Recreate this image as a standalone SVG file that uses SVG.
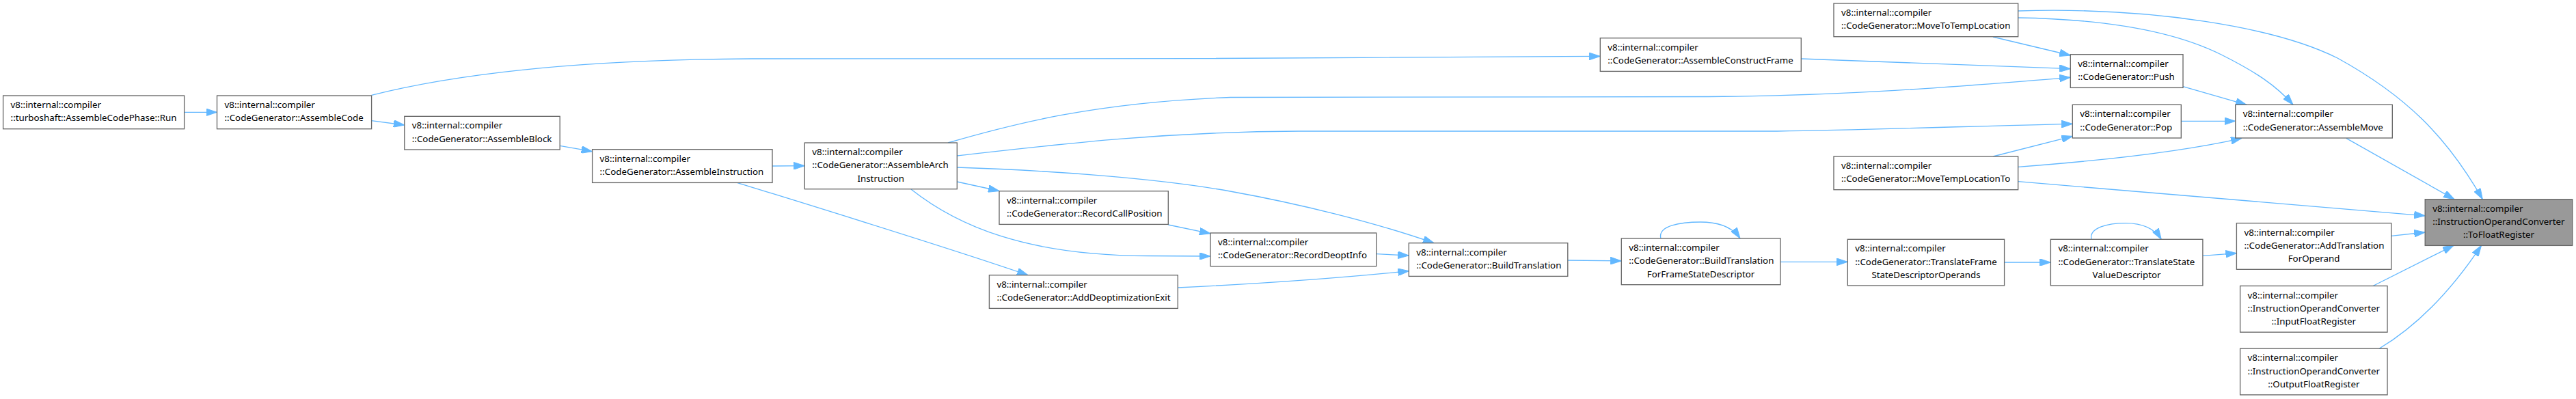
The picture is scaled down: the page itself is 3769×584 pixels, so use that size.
<svg xmlns="http://www.w3.org/2000/svg" width="3769" height="584" viewBox="0 0 3769 584">
<style>
.n rect{fill:#fff;stroke:#666;stroke-width:1.33}
.n.hl rect{fill:#999}
.n text{font-family:"Noto Sans","Open Sans",sans-serif;font-size:13.33px;fill:#000}
.n text.c{text-anchor:middle}
#edges path{fill:none;stroke:#63b8ff;stroke-width:1.33;marker-end:url(#arr)}
</style>
<defs>
<marker id="arr" viewBox="0 0 16 10.7" refX="16" refY="5.35" markerWidth="16" markerHeight="10.7" markerUnits="userSpaceOnUse" orient="auto">
<path d="M0,0 L16,5.35 L0,10.7 Z" fill="#63b8ff" stroke="#63b8ff" stroke-width="1"/>
</marker>
</defs>
<rect width="3769" height="584" fill="#fff"/>
<g id="edges">
<path d="M269.6,164.3 L317.5,164.3"/>
<path d="M543.6,176.7 L591.8,183"/>
<path d="M543.6,139.3 C700,100 900,87 1100,86 L1750,85.7 C2000,85 2200,83.5 2341.3,82.3"/>
<path d="M819.2,213.3 L866.6,221.7"/>
<path d="M1130,243 L1177.3,242.7"/>
<path d="M1078.5,267.3 C1200,305 1380,360 1504,402.7"/>
<path d="M1400.3,266 L1462,279.5"/>
<path d="M1333,277 C1400,330 1500,374 1680,374.5 L1771,375"/>
<path d="M1400.3,245 C1550,250 1700,262 1800,280 C1900,298 2010,325 2098,355.7"/>
<path d="M1387,209 C1480,182 1600,150 1800,142.5 L2500,141.5 C2700,140 2850,128 3029.3,113.3"/>
<path d="M1400.3,228 C1550,211 1700,193 1900,192 L2600,192 C2750,190 2900,184 3032.3,181.3"/>
<path d="M1709.3,329 L1771,341.8"/>
<path d="M2013.7,371.7 L2061.3,374"/>
<path d="M1723.3,421 C1850,415 1980,405 2061.3,396.7"/>
<path d="M2293.8,381 L2372.3,381.8"/>
<path d="M2430,349 C2425,330 2460,325 2488,325 C2515,325 2535,333 2546,349"/>
<path d="M2605,383.3 L2703.3,383.3"/>
<path d="M2932.6,384 L3000.4,384"/>
<path d="M3060,350.3 C3056,333 3085,326.6 3110,326.6 C3135,326.6 3152,334 3162.3,350.3"/>
<path d="M3222.9,374.3 L3272.4,370.6"/>
<path d="M3498.7,345.3 L3548.2,340"/>
<path d="M2635.3,86 L3029.3,100.7"/>
<path d="M2916,54 L3029.3,81"/>
<path d="M2916,229 L3032.3,199.4"/>
<path d="M3194,126.7 L3287,153.3"/>
<path d="M3191.3,177.3 L3270.7,177.3"/>
<path d="M2952.7,26 C3080,28 3180,45 3250,80 C3300,105 3330,125 3355,153.3"/>
<path d="M2952.7,16 C3150,10 3330,40 3420,85 C3520,140 3580,200 3632.3,291.7"/>
<path d="M2952.7,244.3 C3050,237 3180,225 3280,202.3"/>
<path d="M2952.7,265.7 L3548.2,315.8"/>
<path d="M3432.9,202.3 L3591,291.7"/>
<path d="M3472,418.5 L3590,359.3"/>
<path d="M3481,510.2 C3540,475 3590,420 3630.5,359.3"/>
</g>
<g id="n_run" class="n"><rect x="4.6" y="140" width="265" height="48.7"/><text x="15.6" y="158">v8::internal::compiler</text><text x="15.6" y="177.3">::turboshaft::AssembleCodePhase::Run</text></g>
<g id="n_assemblecode" class="n"><rect x="317.5" y="140" width="226.1" height="48.7"/><text x="328.5" y="158">v8::internal::compiler</text><text x="328.5" y="177.3">::CodeGenerator::AssembleCode</text></g>
<g id="n_assembleblock" class="n"><rect x="591.8" y="170.3" width="227.4" height="48.7"/><text x="602.8" y="188.3">v8::internal::compiler</text><text x="602.8" y="207.6">::CodeGenerator::AssembleBlock</text></g>
<g id="n_assembleinstruction" class="n"><rect x="866.6" y="218.7" width="263.4" height="48.7"/><text x="877.6" y="236.7">v8::internal::compiler</text><text x="877.6" y="256">::CodeGenerator::AssembleInstruction</text></g>
<g id="n_assemblearch" class="n"><rect x="1177.3" y="209" width="223" height="67.7"/><text x="1188.3" y="227">v8::internal::compiler</text><text x="1188.3" y="246.3">::CodeGenerator::AssembleArch</text><text class="c" x="1288.8" y="265.6">Instruction</text></g>
<g id="n_recordcallposition" class="n"><rect x="1462" y="279.7" width="247.3" height="48.7"/><text x="1473" y="297.7">v8::internal::compiler</text><text x="1473" y="317">::CodeGenerator::RecordCallPosition</text></g>
<g id="n_adddeoptexit" class="n"><rect x="1447.4" y="402.7" width="275.9" height="48.7"/><text x="1458.4" y="420.7">v8::internal::compiler</text><text x="1458.4" y="440">::CodeGenerator::AddDeoptimizationExit</text></g>
<g id="n_recorddeoptinfo" class="n"><rect x="1771" y="341" width="242.7" height="48.7"/><text x="1782" y="359">v8::internal::compiler</text><text x="1782" y="378.3">::CodeGenerator::RecordDeoptInfo</text></g>
<g id="n_buildtranslation" class="n"><rect x="2061.3" y="355.7" width="232.5" height="48.7"/><text x="2072.3" y="373.7">v8::internal::compiler</text><text x="2072.3" y="393">::CodeGenerator::BuildTranslation</text></g>
<g id="n_btff" class="n"><rect x="2372.3" y="349" width="232.7" height="67.7"/><text x="2383.3" y="367">v8::internal::compiler</text><text x="2383.3" y="386.3">::CodeGenerator::BuildTranslation</text><text class="c" x="2488.6" y="405.6">ForFrameStateDescriptor</text></g>
<g id="n_tfsdo" class="n"><rect x="2703.3" y="350.3" width="229.3" height="67.7"/><text x="2714.3" y="368.3">v8::internal::compiler</text><text x="2714.3" y="387.6">::CodeGenerator::TranslateFrame</text><text class="c" x="2818" y="406.9">StateDescriptorOperands</text></g>
<g id="n_tsvd" class="n"><rect x="3000.4" y="350.3" width="222.5" height="67.7"/><text x="3011.4" y="368.3">v8::internal::compiler</text><text x="3011.4" y="387.6">::CodeGenerator::TranslateState</text><text class="c" x="3111.6" y="406.9">ValueDescriptor</text></g>
<g id="n_assembleconstructframe" class="n"><rect x="2341.3" y="55.7" width="294" height="48.7"/><text x="2352.3" y="73.7">v8::internal::compiler</text><text x="2352.3" y="93">::CodeGenerator::AssembleConstructFrame</text></g>
<g id="n_movetotemplocation" class="n"><rect x="2683" y="5" width="269.7" height="48.7"/><text x="2694" y="23">v8::internal::compiler</text><text x="2694" y="42.3">::CodeGenerator::MoveToTempLocation</text></g>
<g id="n_movetemplocationto" class="n"><rect x="2683" y="229" width="269.7" height="48.7"/><text x="2694" y="247">v8::internal::compiler</text><text x="2694" y="266.3">::CodeGenerator::MoveTempLocationTo</text></g>
<g id="n_push" class="n"><rect x="3029.3" y="79.7" width="164.7" height="48.7"/><text x="3040.3" y="97.7">v8::internal::compiler</text><text x="3040.3" y="117">::CodeGenerator::Push</text></g>
<g id="n_pop" class="n"><rect x="3032.3" y="153.3" width="159" height="48.7"/><text x="3043.3" y="171.3">v8::internal::compiler</text><text x="3043.3" y="190.6">::CodeGenerator::Pop</text></g>
<g id="n_assemblemove" class="n"><rect x="3270.7" y="153.3" width="229.6" height="48.7"/><text x="3281.7" y="171.3">v8::internal::compiler</text><text x="3281.7" y="190.6">::CodeGenerator::AssembleMove</text></g>
<g id="n_tofloatregister" class="n hl"><rect x="3548.2" y="291.7" width="215.5" height="67.7"/><text x="3559.2" y="309.7">v8::internal::compiler</text><text x="3559.2" y="329">::InstructionOperandConverter</text><text class="c" x="3656" y="348.3">::ToFloatRegister</text></g>
<g id="n_addtranslationforoperand" class="n"><rect x="3272.4" y="326.6" width="226.3" height="67.7"/><text x="3283.4" y="344.6">v8::internal::compiler</text><text x="3283.4" y="363.9">::CodeGenerator::AddTranslation</text><text class="c" x="3385.6" y="383.2">ForOperand</text></g>
<g id="n_inputfloatregister" class="n"><rect x="3277.6" y="418.5" width="215.4" height="67.7"/><text x="3288.6" y="436.5">v8::internal::compiler</text><text x="3288.6" y="455.8">::InstructionOperandConverter</text><text class="c" x="3385.3" y="475.1">::InputFloatRegister</text></g>
<g id="n_outputfloatregister" class="n"><rect x="3277.6" y="510.2" width="215.4" height="67.7"/><text x="3288.6" y="528.2">v8::internal::compiler</text><text x="3288.6" y="547.5">::InstructionOperandConverter</text><text class="c" x="3385.3" y="566.8">::OutputFloatRegister</text></g>
</svg>
